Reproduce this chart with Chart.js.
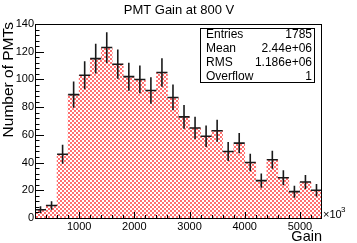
<!DOCTYPE html>
<html>
<head>
<meta charset="utf-8">
<script src="https://cdn.jsdelivr.net/npm/chart.js@4/dist/chart.umd.min.js"></script>
<style>
  html, body { margin: 0; padding: 0; background: #fff; }
  #wrap { width: 357px; height: 243px; }
</style>
</head>
<body>
<div id="wrap"><canvas id="gainChart" width="357" height="243"></canvas></div>
<script>
// histogram data (bin width 200, x in units of 10^3)
const binCenters = [300, 500, 700, 900, 1100, 1300, 1500, 1700, 1900, 2100, 2300, 2500, 2700,
  2900, 3100, 3300, 3500, 3700, 3900, 4100, 4300, 4500, 4700, 4900, 5100, 5300];
const counts = [6, 9, 46, 89, 103, 115, 123, 111, 102, 100, 92, 105, 87,
  73, 65, 59, 63, 48, 54, 40, 27, 42, 29, 19, 26, 20];
const xTicks = [1000, 2000, 3000, 4000, 5000];
const yTicks = [0, 20, 40, 60, 80, 100, 120, 140];
const statLabels = ["Entries", "Mean", "RMS", "Overflow"];
const statValues = ["1785", "2.44e+06", "1.186e+06", "1"];

const FONT = "'Liberation Sans', Arial, Helvetica, sans-serif";

function checkerPattern() {
  const c = document.createElement("canvas");
  c.width = 4;
  c.height = 4;
  const g = c.getContext("2d");
  g.fillStyle = "#ffffff";
  g.fillRect(0, 0, 4, 4);
  g.fillStyle = "#ff7070";
  g.fillRect(0, 0, 2, 2);
  g.fillRect(2, 2, 2, 2);
  return document.getElementById("gainChart").getContext("2d").createPattern(c, "repeat");
}

const rootStyle = {
  id: "rootStyle",
  afterDatasetsDraw(chart) {
    const ctx = chart.ctx;
    const area = chart.chartArea;
    const xs = chart.scales.x;
    const ys = chart.scales.y;

    // error bars
    const half = (binCenters[1] - binCenters[0]) / 2;
    ctx.save();
    ctx.strokeStyle = "#1a1a1a";
    ctx.lineWidth = 1.6;
    counts.forEach((n, i) => {
      const err = Math.sqrt(n);
      const xc = xs.getPixelForValue(binCenters[i]);
      const x0 = xs.getPixelForValue(binCenters[i] - half);
      const x1 = xs.getPixelForValue(binCenters[i] + half);
      const yc = ys.getPixelForValue(n);
      ctx.beginPath();
      ctx.moveTo(x0, yc);
      ctx.lineTo(x1, yc);
      ctx.moveTo(xc, ys.getPixelForValue(n - err));
      ctx.lineTo(xc, ys.getPixelForValue(n + err));
      ctx.stroke();
    });
    ctx.restore();

    // frame + inside ticks
    ctx.save();
    ctx.strokeStyle = "#000";
    ctx.lineWidth = 1;
    ctx.strokeRect(Math.round(area.left) + 0.5, Math.round(area.top) + 0.5,
      Math.round(area.right - area.left) - 1, Math.round(area.bottom - area.top));
    ctx.beginPath();
    for (let v = ys.min; v <= ys.max; v += 4) {
      const y = Math.round(ys.getPixelForValue(v)) + 0.5;
      const len = v % 20 === 0 ? 9 : 4.5;
      ctx.moveTo(area.left, y);
      ctx.lineTo(area.left + len, y);
    }
    for (let v = 400; v < xs.max; v += 200) {
      const x = Math.round(xs.getPixelForValue(v)) + 0.5;
      const len = v % 1000 === 0 ? 6 : 3;
      ctx.moveTo(x, area.bottom);
      ctx.lineTo(x, area.bottom - len);
    }
    ctx.stroke();
    ctx.restore();
  },
  afterDraw(chart) {
    const ctx = chart.ctx;
    const area = chart.chartArea;
    ctx.save();
    ctx.fillStyle = "#000";

    // title
    ctx.font = "13px " + FONT;
    ctx.textAlign = "center";
    ctx.textBaseline = "middle";
    ctx.fillText("PMT Gain at 800 V", 179, 10);

    // axis titles
    ctx.font = "14.5px " + FONT;
    ctx.textAlign = "right";
    ctx.fillText("Gain", area.right, 237);
    ctx.save();
    ctx.font = "15.5px " + FONT;
    ctx.translate(9, 22);
    ctx.rotate(-Math.PI / 2);
    ctx.fillText("Number of PMTs", 0, 0);
    ctx.restore();

    // x10^3
    ctx.textAlign = "left";
    ctx.font = "11px " + FONT;
    ctx.fillText("\u00d710", area.right + 1, 215);
    ctx.font = "8px " + FONT;
    ctx.fillText("3", area.right + 19, 210);

    // stats box
    const bx = 200, by = 28, bw = 114, bh = 54;
    ctx.fillStyle = "#fff";
    ctx.fillRect(bx, by, bw, bh);
    ctx.strokeStyle = "#000";
    ctx.lineWidth = 1;
    ctx.strokeRect(bx + 0.5, by + 0.5, bw, bh);
    ctx.fillStyle = "#000";
    ctx.font = "12px " + FONT;
    statLabels.forEach((label, i) => {
      const y = 34.5 + i * 14;
      ctx.textAlign = "left";
      ctx.fillText(label, bx + 6, y);
      ctx.textAlign = "right";
      ctx.fillText(statValues[i], bx + bw - 2, y);
    });
    ctx.restore();
  }
};

new Chart(document.getElementById("gainChart"), {
  type: "bar",
  data: {
    datasets: [
      {
        data: binCenters.map((x, i) => ({ x, y: counts[i] })),
        backgroundColor: checkerPattern(),
        borderWidth: 0,
        barPercentage: 1,
        categoryPercentage: 1
      }
    ]
  },
  options: {
    responsive: false,
    animation: false,
    devicePixelRatio: 1,
    layout: { padding: { top: 24, right: 35, left: 0, bottom: 0 } },
    plugins: {
      legend: { display: false },
      tooltip: { enabled: false },
      title: { display: false }
    },
    scales: {
      x: {
        type: "linear",
        min: 200,
        max: 5400,
        offset: false,
        grid: { display: false, drawTicks: false },
        border: { display: false },
        afterBuildTicks: (scale) => {
          scale.ticks = xTicks.map((v) => ({ value: v }));
        },
        afterFit: (scale) => {
          scale.height = 25;
        },
        ticks: {
          padding: 2,
          maxRotation: 0,
          autoSkip: false,
          color: "#000",
          font: { family: FONT, size: 11 },
          callback: (v) => String(v)
        }
      },
      y: {
        min: 0,
        max: 140,
        grid: { display: false, drawTicks: false },
        border: { display: false },
        afterBuildTicks: (scale) => {
          scale.ticks = yTicks.map((v) => ({ value: v }));
        },
        afterFit: (scale) => {
          scale.width = 35;
        },
        ticks: {
          padding: 1,
          color: "#000",
          font: { family: FONT, size: 11 },
          callback: (v) => String(v)
        }
      }
    }
  },
  plugins: [rootStyle]
});
</script>
</body>
</html>
